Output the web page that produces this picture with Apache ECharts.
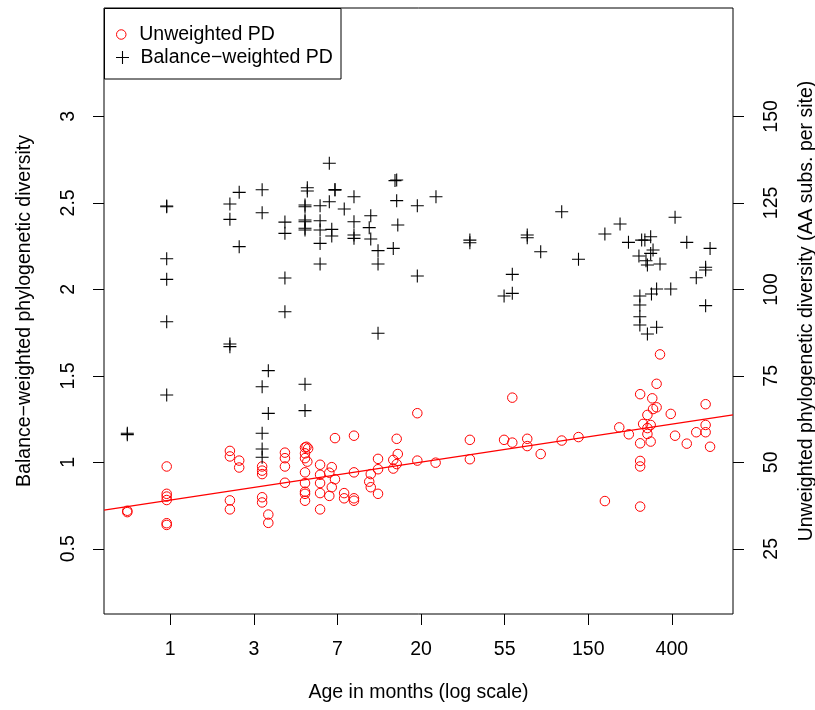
<!DOCTYPE html>
<html><head><meta charset="utf-8">
<script src="https://cdn.jsdelivr.net/npm/echarts@6/dist/echarts.min.js"></script>
<style>html,body{margin:0;padding:0;background:#fff}#c{width:815px;height:710px}</style>
</head><body><div id="c"></div>
<script>
// x axis: natural log of age in months; tick positions and their printed labels
const xTickLn = [0, 1, 2, 3, 4, 5, 6];
const xTickLabels = ['1', '3', '7', '20', '55', '150', '400'];
const leftTicks = [0.5, 1, 1.5, 2, 2.5, 3];
const rightTicks = [25, 50, 75, 100, 125, 150];

// Unweighted PD (AA subs. per site), red circles
const unweightedAge = [
  0.598, 0.598,
  0.958, 0.958, 0.958, 0.958, 0.958, 0.958,
  2.04, 2.04, 2.04, 2.04,
  2.28, 2.28,
  3.00, 3.00, 3.00, 3.00, 3.00,
  3.23, 3.23,
  3.94, 3.94, 3.94, 3.94,
  5.01, 5.10, 5.20, 5.01, 5.01, 5.15, 5.01, 5.01, 5.01, 5.01, 5.01,
  6.00, 6.00, 6.00, 6.00, 6.00,
  6.70, 6.90, 7.17, 6.90, 6.70, 7.17,
  9.00, 9.00, 8.00, 8.00, 9.00, 9.00,
  11.0, 10.8, 11.0,
  12.0, 12.0, 12.0,
  15.0, 14.4, 15.2, 15.0, 14.4,
  19.2, 19.2,
  23.9,
  36.0, 36.0,
  54.2, 59.8, 59.8,
  71.5, 71.5,
  84.0,
  108,
  132,
  181,
  215,
  241,
  276, 276, 276, 276, 276,
  286, 301, 301, 301, 313, 313,
  319, 322, 336, 336,
  350,
  398,
  419,
  482,
  540,
  604, 604, 604,
  637
];
const unweightedPD = [
  36.0, 35.6,
  48.8, 40.9, 40.1, 39.1, 32.4, 31.9,
  53.3, 51.7, 39.0, 36.4,
  50.5, 48.5,
  48.8, 47.6, 46.6, 39.9, 38.4,
  34.9, 32.5,
  52.8, 51.2, 48.8, 44.1,
  54.3, 54.5, 54.0, 52.6, 51.2, 50.2, 47.1, 44.0, 41.5, 40.9, 38.9,
  49.3, 46.4, 44.0, 41.1, 36.4,
  47.0, 48.6, 45.1, 42.8, 40.3, 57.0,
  57.7, 47.1, 41.1, 39.6, 39.6, 38.9,
  46.6, 44.4, 42.8,
  51.0, 48.0, 40.9,
  56.8, 50.7, 52.4, 49.5, 48.2,
  64.2, 50.5,
  49.9,
  56.5, 50.9,
  56.5, 55.7, 68.7,
  56.8, 54.7,
  52.4,
  56.3,
  57.3,
  38.8,
  60.1,
  58.1,
  69.7, 55.5, 50.4, 48.8, 37.2,
  61.1, 63.7, 59.9, 58.2, 60.8, 56.0,
  68.5, 65.4, 65.9, 72.7,
  81.2,
  64.0,
  57.7,
  55.4,
  58.7,
  66.8, 60.8, 58.7,
  54.5
];

// Balance-weighted PD, black crosses
const balanceAge = [
  0.598, 0.598,
  0.958, 0.958, 0.958, 0.958, 0.958, 0.958,
  2.04, 2.04, 2.04, 2.04,
  2.28, 2.28,
  3.00, 3.00, 3.00, 3.00, 3.00, 3.00,
  3.23, 3.23,
  3.94, 3.94, 3.94, 3.94,
  5.15, 5.15,
  5.01, 5.01, 5.01, 5.01, 5.01, 5.01, 5.01, 5.01,
  6.00, 6.00, 6.00, 6.00, 6.00,
  6.70, 6.70,
  7.17, 7.17,
  6.90, 6.90,
  8.01,
  9.00, 9.00, 9.00, 9.00,
  11.0, 10.8, 11.0,
  12.0, 12.0, 12.0,
  14.4,
  14.7, 15.0, 15.0, 15.2,
  19.2, 19.2,
  24.0,
  36.0, 36.0,
  54.2, 59.8, 59.8,
  71.5, 71.5,
  84.0,
  108,
  132,
  181,
  217,
  240,
  281, 292, 313,
  272, 296, 313, 322, 301,
  350,
  419,
  482,
  637,
  604, 604,
  540,
  604,
  398,
  336,
  316,
  275, 275, 275, 275,
  301,
  336
];
const balancePD = [
  1.168, 1.160,
  2.482, 2.478, 2.177, 2.058, 1.813, 1.389,
  2.494, 2.405, 1.684, 1.669,
  2.561, 2.247,
  2.576, 2.443, 1.437, 1.168, 1.077, 1.029,
  1.530, 1.283,
  2.389, 2.324, 2.066, 1.871,
  2.588, 2.569,
  2.488, 2.478, 2.401, 2.391, 2.353, 2.343, 1.451, 1.299,
  2.484, 2.397, 2.343, 2.266, 2.147,
  2.729, 2.507,
  2.578, 2.574,
  2.347, 2.309,
  2.465,
  2.536, 2.391, 2.314, 2.295,
  2.426, 2.357, 2.291,
  2.224, 2.147, 1.746,
  2.237,
  2.629, 2.632, 2.513, 2.372,
  2.484, 2.077,
  2.536,
  2.285, 2.270,
  1.962, 2.087, 1.977,
  2.314, 2.299,
  2.218,
  2.449,
  2.174,
  2.320,
  2.378,
  2.272,
  2.285, 2.285, 2.304,
  2.193, 2.166, 2.208, 2.228, 2.141,
  2.147,
  2.417,
  2.272,
  2.237,
  2.128, 2.112,
  2.067,
  1.906,
  2.002,
  2.002,
  1.973,
  1.962, 1.910, 1.842, 1.794,
  1.742,
  1.781
];

// Fitted line for unweighted PD: [intercept, slope per ln(month)] in AA subs. per site
const fitLine = [39.1, 3.655];

const X_MIN = -0.793, X_MAX = 6.731;
const L_MIN = 0.123, L_MAX = 3.627;
const R_SCALE = 50;
const FONT = '"Liberation Sans", Arial, Helvetica, sans-serif';
const FS = 19.5;
const PLUS = 'path://M0,5.5L12,5.5L12,6.5L0,6.5Z M5.5,0L6.5,0L6.5,12L5.5,12Z';

const circleData = unweightedAge.map((a, i) => [Math.log(a), unweightedPD[i]]);
const plusData = balanceAge.map((a, i) => [Math.log(a), balancePD[i]]);
const lineData = [X_MIN, X_MAX].map(x => [x, fitLine[0] + fitLine[1] * x]);

const txt = { color: '#000', fontFamily: FONT, fontSize: FS };

const chart = echarts.init(document.getElementById('c'), null, { renderer: 'canvas' });
chart.setOption({
  animation: false,
  backgroundColor: '#fff',
  grid: { left: 104, right: 82, top: 8, bottom: 96, containLabel: false, outerBoundsMode: 'none',
          show: true, borderColor: '#000', borderWidth: 1, backgroundColor: 'transparent' },
  xAxis: {
    type: 'value', min: X_MIN, max: X_MAX,
    axisLine: { show: false, onZero: false },
    splitLine: { show: false },
    axisTick: { show: true, inside: false, length: 11, customValues: xTickLn, lineStyle: { color: '#000', width: 1 } },
    axisLabel: Object.assign({ margin: 26, customValues: xTickLn, formatter: v => xTickLabels[xTickLn.indexOf(Math.round(v))] }, txt),
    name: 'Age in months (log scale)', nameLocation: 'middle', nameGap: 69,
    nameTextStyle: txt
  },
  yAxis: [
    {
      type: 'value', position: 'left', min: L_MIN, max: L_MAX,
      axisLine: { show: false, onZero: false }, splitLine: { show: false },
      axisTick: { show: true, inside: false, length: 11, customValues: leftTicks, lineStyle: { color: '#000', width: 1 } },
      axisLabel: Object.assign({ margin: 25, rotate: 90, customValues: leftTicks }, txt),
      name: 'Balance\u2212weighted phylogenetic diversity', nameLocation: 'middle', nameRotate: 90, nameGap: 69,
      nameTextStyle: txt
    },
    {
      type: 'value', position: 'right', min: L_MIN * R_SCALE, max: L_MAX * R_SCALE,
      axisLine: { show: false, onZero: false }, splitLine: { show: false },
      axisTick: { show: true, inside: false, length: 11, customValues: rightTicks, lineStyle: { color: '#000', width: 1 } },
      axisLabel: Object.assign({ margin: 29, rotate: 90, customValues: rightTicks }, txt),
      name: 'Unweighted phylogenetic diversity (AA subs. per site)', nameLocation: 'middle', nameRotate: 90, nameGap: 64,
      nameTextStyle: txt
    }
  ],
  graphic: [{
    type: 'rect', z: 3, silent: true,
    shape: { x: 104.5, y: 8.5, width: 236.5, height: 70.5 },
    style: { fill: '#fff', stroke: '#000', lineWidth: 1 }
  }],
  legend: [
    {
      data: [{ name: 'Unweighted PD', icon: 'circle', itemStyle: { color: 'rgba(0,0,0,0)', borderColor: '#ff0000', borderWidth: 1 } }],
      left: 116, top: 24.5, padding: 0, itemWidth: 26, itemHeight: 9.5, z: 5, selectedMode: false,
      textStyle: txt
    },
    {
      data: [{ name: 'Balance\u2212weighted PD', icon: PLUS, itemStyle: { color: '#000', borderWidth: 0 } }],
      left: 116, top: 47.5, padding: 0, itemWidth: 26, itemHeight: 13, symbolKeepAspect: true, z: 5, selectedMode: false,
      textStyle: txt
    }
  ],
  series: [
    {
      name: 'Unweighted PD', type: 'scatter', yAxisIndex: 1, symbol: 'circle', symbolSize: 9.5,
      itemStyle: { color: 'rgba(0,0,0,0)', borderColor: '#ff0000', borderWidth: 1, opacity: 1 },
      data: circleData, silent: true, z: 2
    },
    {
      name: 'Balance\u2212weighted PD', type: 'scatter', yAxisIndex: 0, symbol: PLUS, symbolSize: 13, symbolKeepAspect: true,
      itemStyle: { color: '#000', opacity: 1 },
      data: plusData, silent: true, z: 2
    },
    {
      name: 'fit', type: 'line', yAxisIndex: 1, data: lineData, showSymbol: false, symbol: 'none',
      lineStyle: { color: '#ff0000', width: 1.2 }, silent: true, z: 2
    }
  ]
});
</script>
</body></html>
